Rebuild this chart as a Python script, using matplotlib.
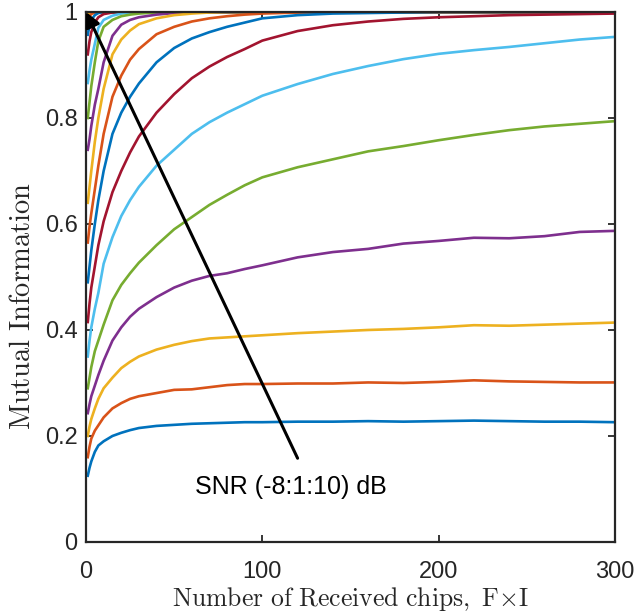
import matplotlib
matplotlib.use('Agg')
import matplotlib.pyplot as plt

# sample points along the x axis (number of received chips)
chips = [1, 2, 3, 5, 7, 10, 15, 20, 25, 30, 40, 50, 60, 70, 80, 90, 100,
         120, 140, 160, 180, 200, 220, 240, 260, 280, 300]

snr_db = list(range(-8, 11))

mi_m8 = [0.125, 0.14, 0.152, 0.17, 0.182, 0.19, 0.20, 0.206, 0.211, 0.215, 0.219, 0.221, 0.223, 0.224,
         0.225, 0.226, 0.226, 0.227, 0.227, 0.228, 0.227, 0.228, 0.229, 0.228, 0.227, 0.227, 0.226]
mi_m7 = [0.16, 0.18, 0.195, 0.21, 0.22, 0.235, 0.252, 0.262, 0.27, 0.275, 0.281, 0.287, 0.288, 0.292,
         0.296, 0.298, 0.298, 0.299, 0.299, 0.301, 0.300, 0.302, 0.305, 0.303, 0.302, 0.301, 0.301]
mi_m6 = [0.20, 0.218, 0.232, 0.252, 0.27, 0.29, 0.31, 0.328, 0.34, 0.35, 0.363, 0.372, 0.379, 0.384,
         0.386, 0.388, 0.39, 0.394, 0.397, 0.400, 0.402, 0.405, 0.409, 0.408, 0.410, 0.412, 0.414]
mi_m5 = [0.243, 0.26, 0.275, 0.295, 0.315, 0.342, 0.38, 0.405, 0.425, 0.44, 0.462, 0.48, 0.493, 0.502,
         0.507, 0.515, 0.522, 0.537, 0.547, 0.553, 0.563, 0.568, 0.574, 0.573, 0.577, 0.585, 0.587]
mi_m4 = [0.29, 0.31, 0.33, 0.36, 0.38, 0.41, 0.456, 0.485, 0.507, 0.527, 0.56, 0.59, 0.613, 0.636,
         0.655, 0.673, 0.688, 0.707, 0.722, 0.737, 0.747, 0.758, 0.768, 0.777, 0.784, 0.789, 0.794]
mi_m3 = [0.35, 0.38, 0.405, 0.44, 0.47, 0.525, 0.575, 0.615, 0.645, 0.67, 0.71, 0.74, 0.77, 0.792,
         0.81, 0.826, 0.842, 0.864, 0.883, 0.898, 0.911, 0.921, 0.928, 0.934, 0.941, 0.948, 0.953]
mi_m2 = [0.415, 0.45, 0.48, 0.52, 0.56, 0.605, 0.66, 0.70, 0.735, 0.765, 0.81, 0.845, 0.875, 0.897,
         0.915, 0.93, 0.946, 0.964, 0.975, 0.982, 0.987, 0.99, 0.992, 0.994, 0.995, 0.996, 0.997]
mi_m1 = [0.49, 0.52, 0.55, 0.6, 0.645, 0.7, 0.77, 0.81, 0.84, 0.865, 0.905, 0.932, 0.95, 0.962,
         0.972, 0.98, 0.988, 0.994, 0.997, 0.998, 0.999, 1.0, 1.0, 1.0, 1.0, 1.0, 1.0]
mi_0 = [0.565, 0.595, 0.62, 0.665, 0.71, 0.77, 0.84, 0.88, 0.91, 0.93, 0.958, 0.972, 0.982, 0.988,
        0.992, 0.995, 0.997, 0.999, 1.0, 1.0, 1.0, 1.0, 1.0, 1.0, 1.0, 1.0, 1.0]
mi_1 = [0.64, 0.67, 0.70, 0.755, 0.80, 0.855, 0.92, 0.948, 0.965, 0.977, 0.988, 0.994, 0.997, 0.999,
        1.0, 1.0, 1.0, 1.0, 1.0, 1.0, 1.0, 1.0, 1.0, 1.0, 1.0, 1.0, 1.0]
mi_2 = [0.74, 0.76, 0.785, 0.825, 0.855, 0.905, 0.955, 0.976, 0.985, 0.99, 0.995, 0.998, 1.0, 1.0,
        1.0, 1.0, 1.0, 1.0, 1.0, 1.0, 1.0, 1.0, 1.0, 1.0, 1.0, 1.0, 1.0]
mi_3 = [0.80, 0.83, 0.86, 0.905, 0.945, 0.972, 0.985, 0.992, 0.995, 0.997, 0.999, 1.0, 1.0, 1.0,
        1.0, 1.0, 1.0, 1.0, 1.0, 1.0, 1.0, 1.0, 1.0, 1.0, 1.0, 1.0, 1.0]
mi_4 = [0.866, 0.89, 0.91, 0.94, 0.97, 0.985, 0.993, 0.997, 0.999, 1.0, 1.0, 1.0, 1.0, 1.0,
        1.0, 1.0, 1.0, 1.0, 1.0, 1.0, 1.0, 1.0, 1.0, 1.0, 1.0, 1.0, 1.0]
mi_5 = [0.92, 0.945, 0.962, 0.98, 0.99, 0.996, 0.999, 1.0, 1.0, 1.0, 1.0, 1.0, 1.0, 1.0,
        1.0, 1.0, 1.0, 1.0, 1.0, 1.0, 1.0, 1.0, 1.0, 1.0, 1.0, 1.0, 1.0]
mi_6 = [0.957, 0.975, 0.985, 0.994, 0.998, 1.0, 1.0, 1.0, 1.0, 1.0, 1.0, 1.0, 1.0, 1.0,
        1.0, 1.0, 1.0, 1.0, 1.0, 1.0, 1.0, 1.0, 1.0, 1.0, 1.0, 1.0, 1.0]
mi_7 = [0.985, 0.992, 0.996, 0.999, 1.0, 1.0, 1.0, 1.0, 1.0, 1.0, 1.0, 1.0, 1.0, 1.0,
        1.0, 1.0, 1.0, 1.0, 1.0, 1.0, 1.0, 1.0, 1.0, 1.0, 1.0, 1.0, 1.0]
mi_8 = [0.995, 0.998, 0.999, 1.0, 1.0, 1.0, 1.0, 1.0, 1.0, 1.0, 1.0, 1.0, 1.0, 1.0,
        1.0, 1.0, 1.0, 1.0, 1.0, 1.0, 1.0, 1.0, 1.0, 1.0, 1.0, 1.0, 1.0]
mi_9 = [0.999, 1.0, 1.0, 1.0, 1.0, 1.0, 1.0, 1.0, 1.0, 1.0, 1.0, 1.0, 1.0, 1.0,
        1.0, 1.0, 1.0, 1.0, 1.0, 1.0, 1.0, 1.0, 1.0, 1.0, 1.0, 1.0, 1.0]
mi_10 = [1.0, 1.0, 1.0, 1.0, 1.0, 1.0, 1.0, 1.0, 1.0, 1.0, 1.0, 1.0, 1.0, 1.0,
         1.0, 1.0, 1.0, 1.0, 1.0, 1.0, 1.0, 1.0, 1.0, 1.0, 1.0, 1.0, 1.0]

curves = [mi_m8, mi_m7, mi_m6, mi_m5, mi_m4, mi_m3, mi_m2, mi_m1, mi_0, mi_1,
          mi_2, mi_3, mi_4, mi_5, mi_6, mi_7, mi_8, mi_9, mi_10]

# matlab default colour order
colors = ['#0072BD', '#D95319', '#EDB120', '#7E2F8E', '#77AC30', '#4DBEEE', '#A2142F']

plt.rcParams['mathtext.fontset'] = 'cm'
plt.rcParams['font.family'] = ['Liberation Sans', 'DejaVu Sans']

fig = plt.figure(figsize=(6.39, 6.14), dpi=100)
ax = fig.add_axes([0.1346, 0.1173, 0.8278, 0.8632])

# high SNR drawn first, low SNR on top
for i in reversed(range(len(curves))):
    ax.plot(chips, curves[i], color=colors[i % 7], lw=1.9)

ax.set_xlim(0, 300)
ax.set_ylim(0, 1)
ax.set_xticks([0, 100, 200, 300])
ax.set_yticks([0, 0.2, 0.4, 0.6, 0.8, 1])
ax.set_yticklabels(['0', '0.2', '0.4', '0.6', '0.8', '1'])
ax.tick_params(direction='in', top=True, right=True, length=5, width=1.3,
               labelsize=17, color='#262626', labelcolor='#262626', pad=6)
ax.tick_params(axis='x', pad=14)
for s in ax.spines.values():
    s.set_color('#262626')
    s.set_linewidth(1.6)

ax.set_xlabel(r'$\mathrm{Number\ of\ Received\ chips,\ F{\times}I}$', fontsize=18.5,
              color='#262626', labelpad=1)
ax.set_ylabel(r'$\mathrm{Mutual\ Information}$', fontsize=20.5, color='#262626')
ax.yaxis.set_label_coords(-0.095, 0.445)

ax.annotate('', xy=(0, 1), xytext=(120, 0.158),
            arrowprops=dict(arrowstyle='-|>', color='k', lw=2.2, mutation_scale=22,
                            shrinkA=0, shrinkB=0))
ax.text(116, 0.103, 'SNR (-8:1:10) dB', fontsize=18, ha='center', va='center', color='k')

fig.savefig('out.png', dpi=100)
